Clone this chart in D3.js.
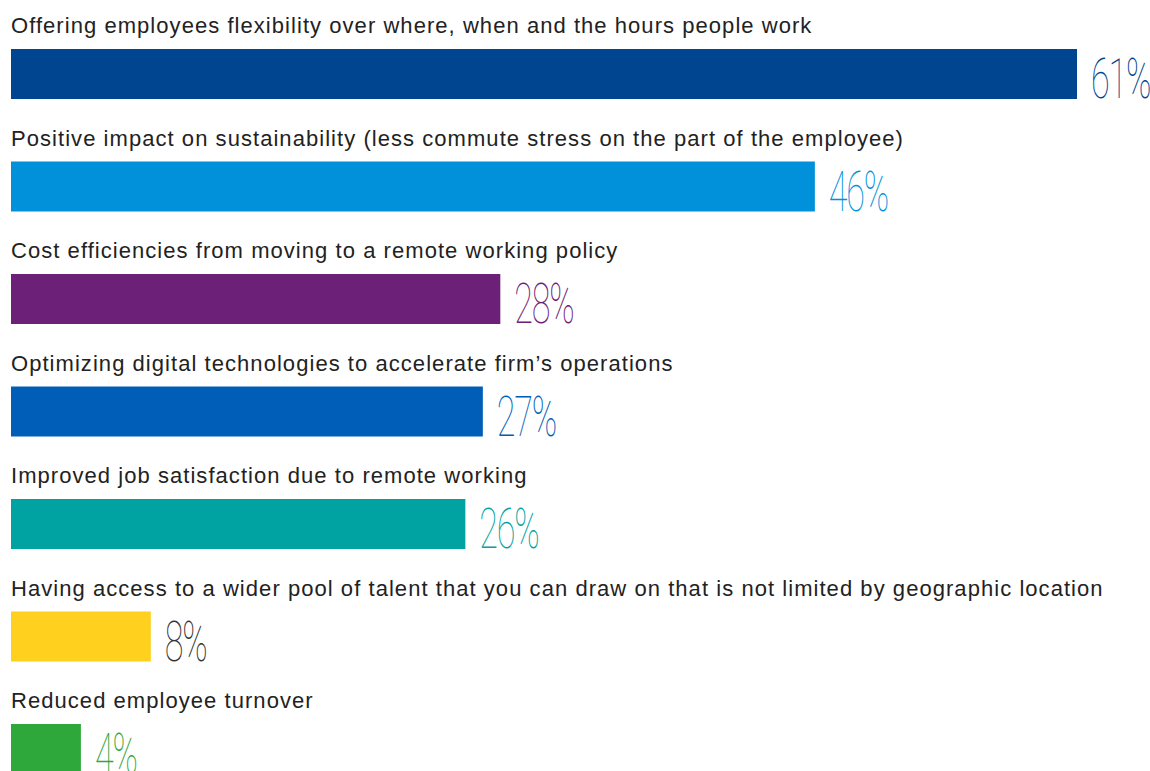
<!DOCTYPE html>
<html>
<head>
<meta charset="utf-8">
<script src="https://cdn.jsdelivr.net/npm/d3@7"></script>
<style>
  body { margin: 0; background: #fff; }
</style>
</head>
<body>
<svg id="chart"></svg>
<script>
const categories = [
  "Offering employees flexibility over where, when and the hours people work",
  "Positive impact on sustainability (less commute stress on the part of the employee)",
  "Cost efficiencies from moving to a remote working policy",
  "Optimizing digital technologies to accelerate firm\u2019s operations",
  "Improved job satisfaction due to remote working",
  "Having access to a wider pool of talent that you can draw on that is not limited by geographic location",
  "Reduced employee turnover"
];
const values = [61, 46, 28, 27, 26, 8, 4];
const barColors = ["#00458f", "#0091da", "#6d2077", "#005eb8", "#00a3a1", "#ffd01e", "#2ea83b"];
const labelColors = ["#00458f", "#0091da", "#6d2077", "#005eb8", "#00a3a1", "#333333", "#2ea83b"];

const width = 1150, height = 771;
const svg = d3.select("#chart").attr("width", width).attr("height", height);

// 0% sits at x=11, 61% ends around x=1077
const x = d3.scaleLinear().domain([0, 61]).range([11, 1077]);
const y = d3.scaleBand().domain(categories).range([0, 787.5]).paddingInner(0).paddingOuter(0);

const rows = svg.selectAll("g.row")
  .data(categories)
  .join("g")
  .attr("class", "row")
  .attr("transform", d => `translate(0,${y(d)})`);

rows.append("text")
  .attr("x", 11)
  .attr("y", 33)
  .style("font-family", "'Liberation Sans', Arial, sans-serif")
  .style("font-size", "22px")
  .style("letter-spacing", "1.05px")
  .style("fill", "#222")
  .text(d => d);

rows.append("rect")
  .attr("x", x(0))
  .attr("y", 49)
  .attr("width", (d, i) => x(values[i]) - x(0))
  .attr("height", 50)
  .attr("fill", (d, i) => barColors[i]);

rows.append("text")
  .attr("transform", (d, i) => `translate(${x(values[i]) + 14},98) scale(0.61,1)`)
  .style("font-family", "Roboto, 'Liberation Sans', sans-serif")
  .style("font-weight", 100)
  .style("font-size", "56px")
  .style("letter-spacing", "-2px")
  .style("fill", (d, i) => labelColors[i])
  .text((d, i) => values[i] + "%");
</script>
</body>
</html>
